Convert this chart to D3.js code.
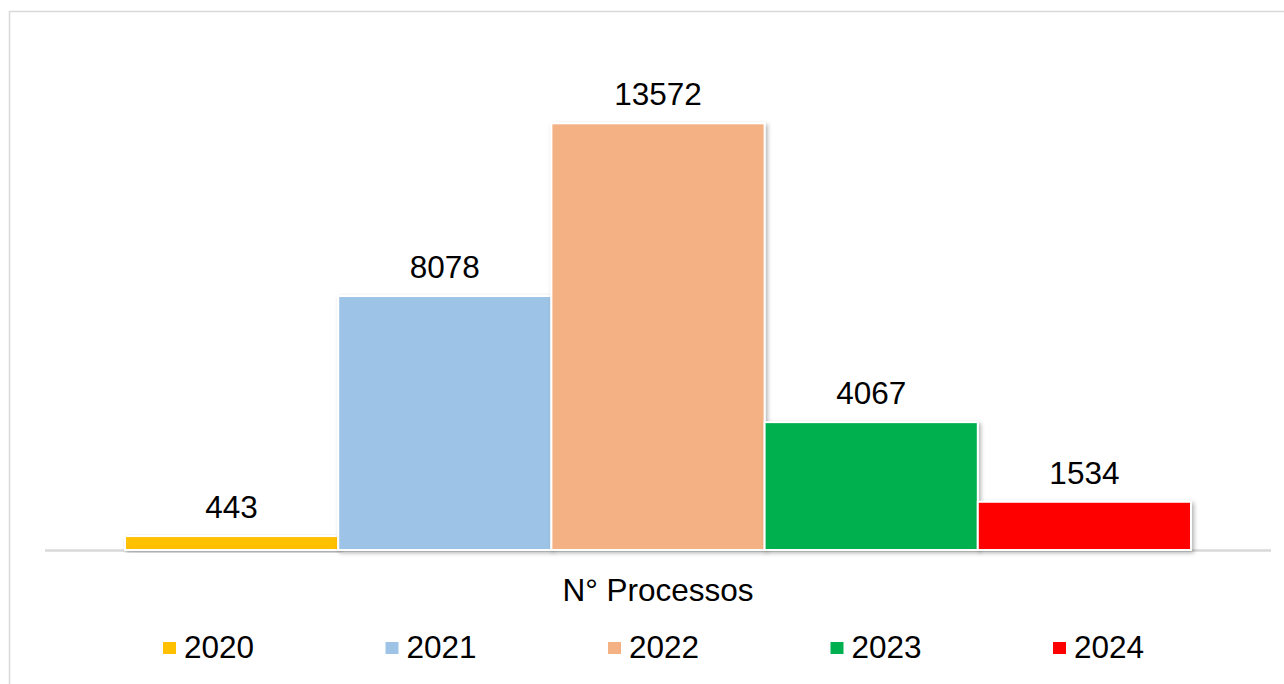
<!DOCTYPE html>
<html>
<head>
<meta charset="utf-8">
<script src="https://cdn.jsdelivr.net/npm/d3@7"></script>
<style>
  html, body { margin: 0; padding: 0; background: #fff; }
  svg { display: block; font-family: "Liberation Sans", Arial, sans-serif; }
</style>
</head>
<body>
<svg id="chart" width="1284" height="684"></svg>
<script>
const categories = ["2020", "2021", "2022", "2023", "2024"];
const values = [443, 8078, 13572, 4067, 1534];
const colors = ["#FFC000", "#9DC3E6", "#F4B183", "#00B050", "#FF0000"];
const axisTitle = "N° Processos";
const yMax = 16000;

const W = 1284, H = 684;
const FS = 31.5;
const svg = d3.select("#chart");

const defs = svg.append("defs");
const f = defs.append("filter").attr("id", "shadow").attr("x", "-10%").attr("y", "-10%").attr("width", "130%").attr("height", "130%");
f.append("feDropShadow").attr("dx", 2).attr("dy", 2).attr("stdDeviation", 2).attr("flood-color", "#000").attr("flood-opacity", 0.3);

// outer chart border
svg.append("rect").attr("x", 9.5).attr("y", 11.5).attr("width", 1290).attr("height", 700)
  .attr("fill", "none").attr("stroke", "#d9d9d9").attr("stroke-width", 1.5);

const plotLeft = 45, plotRight = 1271, baseY = 550, topY = 47;
const groupX0 = plotLeft + 80, groupX1 = plotRight - 80;
const x = d3.scaleBand().domain(categories).range([groupX0, groupX1]).padding(0);
const y = d3.scaleLinear().domain([0, yMax]).range([baseY, topY]);

const data = categories.map((c, i) => ({ c, v: values[i], color: colors[i] }));

// baseline
svg.append("line").attr("x1", plotLeft).attr("x2", plotRight).attr("y1", baseY + 0.5).attr("y2", baseY + 0.5)
  .attr("stroke", "#d9d9d9").attr("stroke-width", 2.5);

// bars
svg.append("g").selectAll("rect").data(data).join("rect")
  .attr("x", d => x(d.c))
  .attr("y", d => y(d.v))
  .attr("width", x.bandwidth())
  .attr("height", d => baseY - y(d.v))
  .attr("fill", d => d.color)
  .attr("stroke", "#fff")
  .attr("stroke-width", 2)
  .attr("filter", "url(#shadow)");

// value labels
svg.append("g").selectAll("text").data(data).join("text")
  .attr("x", d => x(d.c) + x.bandwidth() / 2)
  .attr("y", d => y(d.v) - 18)
  .attr("text-anchor", "middle")
  .attr("font-size", FS)
  .attr("fill", "#000")
  .text(d => d.v);

// axis title
svg.append("text").attr("x", (plotLeft + plotRight) / 2).attr("y", 601)
  .attr("text-anchor", "middle").attr("font-size", FS).attr("fill", "#000").text(axisTitle);

// legend
const legX = d3.scalePoint().domain(categories).range([163, 1053]);
const leg = svg.append("g").selectAll("g").data(data).join("g")
  .attr("transform", d => `translate(${legX(d.c)},0)`);
leg.append("rect").attr("x", 0).attr("y", 642).attr("width", 13).attr("height", 12).attr("fill", d => d.color);
leg.append("text").attr("x", 21).attr("y", 658).attr("font-size", FS).attr("fill", "#000").text(d => d.c);
</script>
</body>
</html>
